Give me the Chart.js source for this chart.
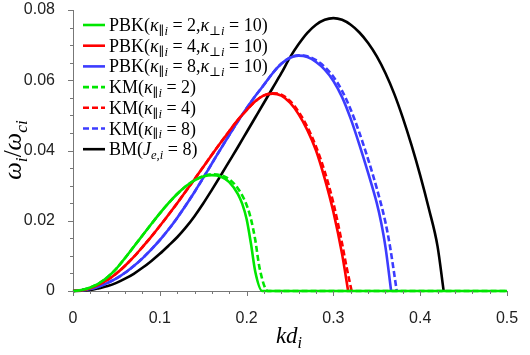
<!DOCTYPE html>
<html>
<head>
<meta charset="utf-8">
<script src="https://cdn.jsdelivr.net/npm/chart.js@4.4.1/dist/chart.umd.min.js"></script>
<style>
  html, body { margin: 0; padding: 0; background: #fff; }
  #wrap { width: 530px; height: 355px; }
</style>
</head>
<body>
<div id="wrap"><canvas id="growth" width="530" height="355"></canvas></div>
<script>
// growth rate vs kd_i
const kdPBK2 = [0, 0.01, 0.02, 0.03, 0.04, 0.05, 0.06, 0.07, 0.08, 0.09, 0.10, 0.11, 0.12, 0.13, 0.14, 0.15, 0.16, 0.17, 0.18, 0.19, 0.195, 0.20, 0.205, 0.21, 0.218, 0.5];
const wPBK2 = [0, 0.0003, 0.0010, 0.0022, 0.0040, 0.0064, 0.0094, 0.0126, 0.0158, 0.0190, 0.0221, 0.0250, 0.0276, 0.0298, 0.0315, 0.0326, 0.0330, 0.0326, 0.0310, 0.0276, 0.0248, 0.0205, 0.0135, 0.0055, 0, 0];

const kdKM2 = [0, 0.01, 0.02, 0.03, 0.04, 0.05, 0.06, 0.07, 0.08, 0.09, 0.10, 0.11, 0.12, 0.13, 0.14, 0.15, 0.16, 0.17, 0.18, 0.19, 0.20, 0.205, 0.21, 0.215, 0.2245, 0.5];
const wKM2 = [0, 0.0003, 0.0010, 0.0022, 0.0040, 0.0064, 0.0094, 0.0126, 0.0158, 0.0190, 0.0221, 0.0250, 0.0276, 0.0298, 0.0315, 0.0327, 0.0332, 0.0330, 0.0318, 0.0292, 0.0245, 0.0205, 0.0145, 0.0065, 0, 0];

const kdPBK4 = [0, 0.01, 0.02, 0.03, 0.04, 0.05, 0.06, 0.07, 0.08, 0.09, 0.10, 0.11, 0.12, 0.13, 0.14, 0.15, 0.16, 0.17, 0.18, 0.19, 0.20, 0.21, 0.22, 0.23, 0.24, 0.25, 0.26, 0.27, 0.28, 0.29, 0.30, 0.31, 0.317];
const wPBK4 = [0, 0.0002, 0.0008, 0.0018, 0.0032, 0.0050, 0.0072, 0.0097, 0.0125, 0.0154, 0.0185, 0.0217, 0.0250, 0.0284, 0.0318, 0.0353, 0.0388, 0.0422, 0.0455, 0.0487, 0.0515, 0.0540, 0.0557, 0.0562, 0.0556, 0.0536, 0.0503, 0.0458, 0.0400, 0.0320, 0.0225, 0.0105, 0];

const kdKM4 = [0, 0.01, 0.02, 0.03, 0.04, 0.05, 0.06, 0.07, 0.08, 0.09, 0.10, 0.11, 0.12, 0.13, 0.14, 0.15, 0.16, 0.17, 0.18, 0.19, 0.20, 0.21, 0.22, 0.23, 0.24, 0.25, 0.26, 0.27, 0.28, 0.29, 0.30, 0.31, 0.315, 0.321];
const wKM4 = [0, 0.0002, 0.0008, 0.0018, 0.0032, 0.0050, 0.0072, 0.0097, 0.0125, 0.0154, 0.0185, 0.0217, 0.0250, 0.0284, 0.0318, 0.0353, 0.0388, 0.0422, 0.0455, 0.0487, 0.0515, 0.0540, 0.0557, 0.0563, 0.0559, 0.0541, 0.0510, 0.0467, 0.0411, 0.0340, 0.0250, 0.0135, 0.0070, 0];

const kdPBK8 = [0, 0.01, 0.02, 0.03, 0.04, 0.05, 0.06, 0.07, 0.08, 0.09, 0.10, 0.11, 0.12, 0.13, 0.14, 0.15, 0.16, 0.17, 0.18, 0.19, 0.20, 0.21, 0.22, 0.23, 0.24, 0.25, 0.26, 0.27, 0.28, 0.29, 0.30, 0.31, 0.32, 0.33, 0.34, 0.35, 0.355, 0.36, 0.3665];
const wPBK8 = [0, 0.0002, 0.0006, 0.0013, 0.0023, 0.0036, 0.0052, 0.0071, 0.0093, 0.0118, 0.0145, 0.0175, 0.0208, 0.0244, 0.0282, 0.0322, 0.0363, 0.0404, 0.0444, 0.0483, 0.0520, 0.0555, 0.0587, 0.0620, 0.0647, 0.0664, 0.0670, 0.0666, 0.0652, 0.0630, 0.0598, 0.0552, 0.0490, 0.0416, 0.0336, 0.0250, 0.0195, 0.0125, 0];

const kdKM8 = [0, 0.01, 0.02, 0.03, 0.04, 0.05, 0.06, 0.07, 0.08, 0.09, 0.10, 0.11, 0.12, 0.13, 0.14, 0.15, 0.16, 0.17, 0.18, 0.19, 0.20, 0.21, 0.22, 0.23, 0.24, 0.25, 0.26, 0.27, 0.28, 0.29, 0.30, 0.31, 0.32, 0.33, 0.34, 0.35, 0.36, 0.365, 0.373];
const wKM8 = [0, 0.0002, 0.0006, 0.0013, 0.0023, 0.0036, 0.0052, 0.0071, 0.0093, 0.0118, 0.0145, 0.0175, 0.0208, 0.0244, 0.0282, 0.0322, 0.0363, 0.0404, 0.0444, 0.0483, 0.0520, 0.0555, 0.0587, 0.0620, 0.0647, 0.0664, 0.0671, 0.0668, 0.0657, 0.0638, 0.0610, 0.0570, 0.0516, 0.0450, 0.0375, 0.0292, 0.0195, 0.0130, 0];

const kdBM = [0, 0.01, 0.02, 0.03, 0.04, 0.05, 0.06, 0.07, 0.08, 0.09, 0.10, 0.11, 0.12, 0.13, 0.14, 0.15, 0.16, 0.17, 0.18, 0.19, 0.20, 0.21, 0.22, 0.23, 0.24, 0.25, 0.26, 0.27, 0.28, 0.29, 0.30, 0.31, 0.32, 0.33, 0.34, 0.35, 0.36, 0.37, 0.38, 0.39, 0.40, 0.41, 0.42, 0.427];
const wBM = [0, 0.0001, 0.0003, 0.0008, 0.0014, 0.0023, 0.0035, 0.0049, 0.0066, 0.0085, 0.0106, 0.0129, 0.0153, 0.0181, 0.0213, 0.0249, 0.0288, 0.0328, 0.0369, 0.0410, 0.0452, 0.0494, 0.0536, 0.0578, 0.0620, 0.0665, 0.0703, 0.0735, 0.0758, 0.0772, 0.0777, 0.0772, 0.0758, 0.0736, 0.0706, 0.0668, 0.0620, 0.0562, 0.0493, 0.0415, 0.0329, 0.0234, 0.0127, 0];

const xTicks = [0, 0.1, 0.2, 0.3, 0.4, 0.5];
const yTicks = [0, 0.02, 0.04, 0.06, 0.08];

// legend text as runs: 0 roman, 1 italic, 2 roman subscript, 3 italic subscript
const legendRuns = [
    [['PBK(', 0], ['κ', 1], ['∥', 2], ['i', 3], [' = 2,', 0], ['κ', 1], ['⊥', 2], ['i', 3], [' = 10)', 0]],
    [['PBK(', 0], ['κ', 1], ['∥', 2], ['i', 3], [' = 4,', 0], ['κ', 1], ['⊥', 2], ['i', 3], [' = 10)', 0]],
    [['PBK(', 0], ['κ', 1], ['∥', 2], ['i', 3], [' = 8,', 0], ['κ', 1], ['⊥', 2], ['i', 3], [' = 10)', 0]],
    [['KM(', 0], ['κ', 1], ['∥', 2], ['i', 3], [' = 2)', 0]],
    [['KM(', 0], ['κ', 1], ['∥', 2], ['i', 3], [' = 4)', 0]],
    [['KM(', 0], ['κ', 1], ['∥', 2], ['i', 3], [' = 8)', 0]],
    [['BM(', 0], ['J', 1], ['e,i', 3], [' = 8)', 0]]
];
const xTitleRuns = [['kd', 1], ['i', 3]];
const yTitleRuns = [['ω', 1], ['i', 3], ['/', 0], ['ω', 1], ['ci', 3]];

const GREEN = '#00e600';
const RED = '#ff0000';
const BLUE = '#3c3cff';
const BLACK = '#000000';
const SERIF = '"Liberation Serif", "DejaVu Serif", serif';

function pts(xs, ys) {
    return xs.map((x, i) => ({ x: x, y: ys[i] }));
}

function series(label, xs, ys, color, dashed) {
    return {
        label: label,
        data: pts(xs, ys),
        borderColor: color,
        backgroundColor: color,
        borderWidth: 2.6,
        borderDash: dashed ? [6, 3] : [],
        pointRadius: 0,
        cubicInterpolationMode: 'monotone',
        fill: false,
        clip: false
    };
}

function runFont(style, size) {
    const sub = style >= 2;
    const italic = style === 1 || style === 3;
    const s = sub ? size * 0.7 : size;
    return (italic ? 'italic ' : '') + s + 'px ' + SERIF;
}

function measureRuns(ctx, runs, size) {
    let w = 0;
    runs.forEach(([t, st]) => {
        ctx.font = runFont(st, size);
        w += ctx.measureText(t).width;
    });
    return w;
}

function drawRuns(ctx, runs, x, y, size) {
    ctx.textAlign = 'left';
    ctx.textBaseline = 'alphabetic';
    runs.forEach(([t, st]) => {
        ctx.font = runFont(st, size);
        const dy = st >= 2 ? size * 0.22 : 0;
        ctx.fillText(t, x, y + dy);
        x += ctx.measureText(t).width;
    });
}

// minor ticks, legend and axis titles
const decorations = {
    id: 'decorations',
    afterDraw(chart) {
        const ctx = chart.ctx;
        const xs = chart.scales.x;
        const ys = chart.scales.y;
        const area = chart.chartArea;
        ctx.save();
        ctx.strokeStyle = '#777';
        ctx.lineWidth = 1;
        ctx.beginPath();
        for (let i = 0; i <= 25; i++) {
            const px = Math.round(xs.getPixelForValue(i * 0.02)) + 0.5;
            const len = i % 5 === 0 ? 5 : 3;
            ctx.moveTo(px, area.bottom);
            ctx.lineTo(px, area.bottom + len);
        }
        for (let i = 0; i <= 16; i++) {
            const py = Math.round(ys.getPixelForValue(i * 0.005)) + 0.5;
            const len = i % 4 === 0 ? 5 : 3;
            ctx.moveTo(area.left, py);
            ctx.lineTo(area.left - len, py);
        }
        ctx.stroke();

        // legend
        ctx.fillStyle = '#000';
        chart.data.datasets.forEach((ds, i) => {
            const y = 25 + i * 20.7;
            ctx.strokeStyle = ds.borderColor;
            ctx.lineWidth = 2.6;
            ctx.setLineDash(ds.borderDash);
            ctx.beginPath();
            ctx.moveTo(83, y);
            ctx.lineTo(105, y);
            ctx.stroke();
            ctx.setLineDash([]);
            drawRuns(ctx, legendRuns[i], 109, y + 6, 18);
        });

        // axis titles
        const xw = measureRuns(ctx, xTitleRuns, 23);
        drawRuns(ctx, xTitleRuns, 289 - xw / 2, 343, 23);
        ctx.translate(21, 150);
        ctx.rotate(-Math.PI / 2);
        const yw = measureRuns(ctx, yTitleRuns, 25);
        drawRuns(ctx, yTitleRuns, -yw / 2, 0, 25);
        ctx.restore();
    }
};

new Chart(document.getElementById('growth'), {
    type: 'line',
    data: {
        datasets: [
            series('PBK(κ∥i = 2,κ⊥i = 10)', kdPBK2, wPBK2, GREEN, false),
            series('PBK(κ∥i = 4,κ⊥i = 10)', kdPBK4, wPBK4, RED, false),
            series('PBK(κ∥i = 8,κ⊥i = 10)', kdPBK8, wPBK8, BLUE, false),
            series('KM(κ∥i = 2)', kdKM2, wKM2, GREEN, true),
            series('KM(κ∥i = 4)', kdKM4, wKM4, RED, true),
            series('KM(κ∥i = 8)', kdKM8, wKM8, BLUE, true),
            series('BM(Je,i = 8)', kdBM, wBM, BLACK, false)
        ]
    },
    options: {
        responsive: false,
        animation: false,
        layout: { padding: { top: 10, right: 23, left: 0, bottom: 0 } },
        plugins: {
            legend: { display: false },
            tooltip: { enabled: false }
        },
        scales: {
            x: {
                type: 'linear',
                min: 0,
                max: 0.5,
                afterFit: (s) => {
                    s.height = 64;
                    s.paddingLeft = 0;
                    s.paddingRight = 0;
                },
                afterBuildTicks: (s) => { s.ticks = xTicks.map(v => ({ value: v })); },
                grid: { display: false },
                border: { display: true, color: '#777', width: 1 },
                ticks: {
                    padding: 10,
                    color: '#222',
                    font: { family: '"Liberation Sans", Arial, sans-serif', size: 16 },
                    callback: (v) => String(v)
                }
            },
            y: {
                type: 'linear',
                min: 0,
                max: 0.08,
                afterFit: (s) => {
                    s.width = 73;
                    s.paddingTop = 0;
                    s.paddingBottom = 0;
                },
                afterBuildTicks: (s) => { s.ticks = yTicks.map(v => ({ value: v })); },
                grid: { display: false },
                border: { display: true, color: '#777', width: 1 },
                ticks: {
                    padding: 10,
                    color: '#222',
                    font: { family: '"Liberation Sans", Arial, sans-serif', size: 16 },
                    callback: (v) => String(v)
                }
            }
        }
    },
    plugins: [decorations]
});
</script>
</body>
</html>
